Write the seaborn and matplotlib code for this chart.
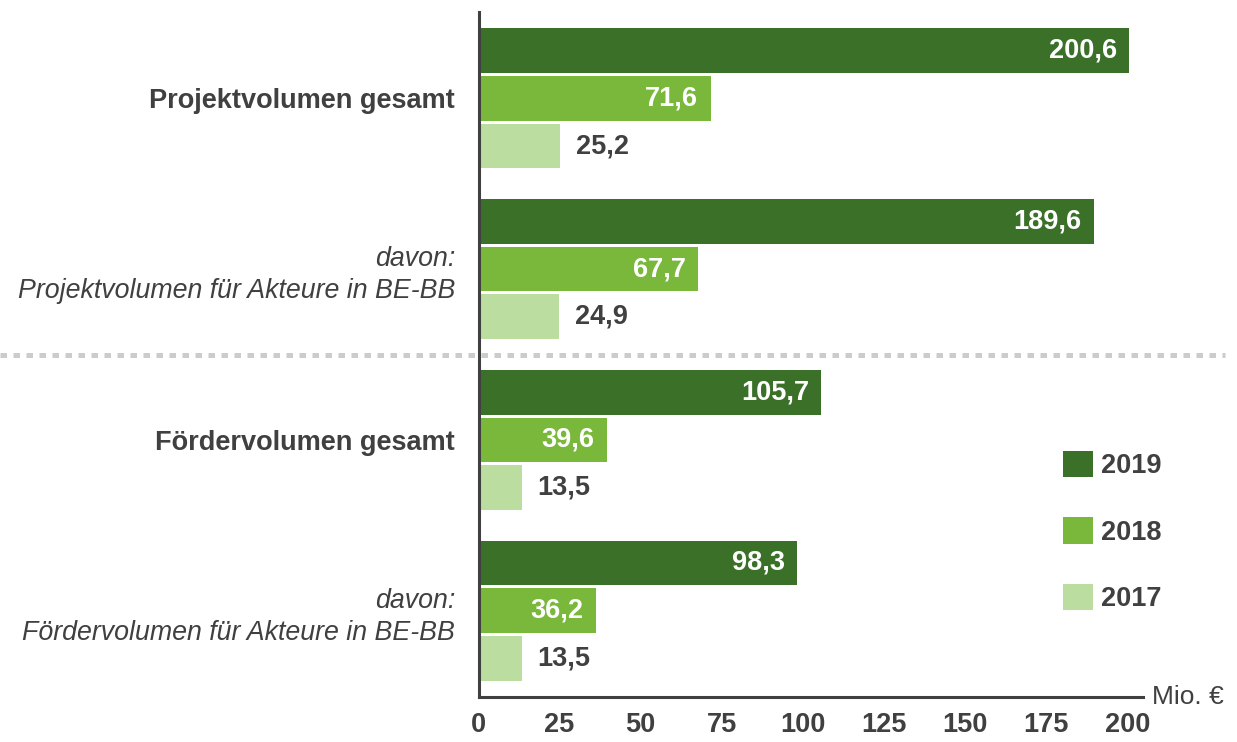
import matplotlib
matplotlib.use("Agg")
import matplotlib.pyplot as plt
from matplotlib.lines import Line2D
from matplotlib.patches import Patch
from matplotlib.transforms import blended_transform_factory, ScaledTranslation
import seaborn as sns
import pandas as pd

# --- data -------------------------------------------------------------
categories = [
    "Projektvolumen gesamt",
    "davon:\nProjektvolumen für Akteure in BE-BB",
    "Fördervolumen gesamt",
    "davon:\nFördervolumen für Akteure in BE-BB",
]
years = ["2019", "2018", "2017"]
values_2019 = [200.6, 189.6, 105.7, 98.3]
values_2018 = [71.6, 67.7, 39.6, 36.2]
values_2017 = [25.2, 24.9, 13.5, 13.5]
x_ticks = [0, 25, 50, 75, 100, 125, 150, 175, 200]
unit_label = "Mio. €"

# --- style ------------------------------------------------------------
TEXT = "#404040"
palette = {"2019": "#3b7029", "2018": "#79b83a", "2017": "#bbdd9f"}
label_colors = {"2019": "white", "2018": "white", "2017": TEXT}
FS = 19
FS_NUM = 19.5

sns.set_style("white")
plt.rcParams["font.family"] = ["Liberation Sans", "DejaVu Sans"]

df = pd.DataFrame({
    "Kategorie": categories * 3,
    "Jahr": ["2019"] * 4 + ["2018"] * 4 + ["2017"] * 4,
    "Wert": values_2019 + values_2018 + values_2017,
})

fig = plt.figure(figsize=(12.37, 7.42), dpi=100)
ax = fig.add_axes([478.5 / 1237, 1 - 697 / 742, (1143 - 478.5) / 1237, (697 - 12) / 742])

sns.barplot(
    data=df, x="Wert", y="Kategorie", hue="Jahr", order=categories,
    hue_order=years, palette=palette, orient="h", width=0.842, gap=0.0625,
    linewidth=0, saturation=1, errorbar=None, ax=ax, legend=False,
)

ax.set_xlim(0, 204.8)
ax.set_ylim(3.503, -0.503)
ax.set_xlabel("")
ax.set_ylabel("")

# spines
for side in ("top", "right"):
    ax.spines[side].set_visible(False)
for side in ("left", "bottom"):
    ax.spines[side].set_color(TEXT)
    ax.spines[side].set_linewidth(2.2)

# x axis
ax.set_xticks(x_ticks)
ax.set_xticklabels([str(t) for t in x_ticks], fontsize=FS_NUM, fontweight="bold", color=TEXT)
ax.tick_params(axis="x", direction="inout", length=12, width=2.2, color=TEXT, pad=5)
ax.text(1.0, 0.0, unit_label, fontsize=FS, color=TEXT, ha="left", va="center",
        transform=ax.transAxes + ScaledTranslation(9 / 100, 0, fig.dpi_scale_trans))

# y axis: category labels, bold for totals, italic for subsets
ax.set_yticks(range(len(categories)))
ax.set_yticklabels(categories, color=TEXT)
for lbl, cat in zip(ax.get_yticklabels(), categories):
    if cat.startswith("davon"):
        lbl.set_fontstyle("italic")
        lbl.set_fontsize(19.3)
    else:
        lbl.set_fontweight("bold")
        lbl.set_fontsize(19.5)
    lbl.set_linespacing(1.28)
ax.tick_params(axis="y", length=0, pad=17)

# value labels
for year, container in zip(years, ax.containers):
    for bar, val in zip(container.patches, container.datavalues):
        yc = bar.get_y() + bar.get_height() / 2
        txt = f"{val:.1f}".replace(".", ",")
        if year == "2017":
            ax.annotate(txt, (val, yc), xytext=(11, 0), textcoords="offset points",
                        ha="left", va="center", fontsize=FS_NUM, fontweight="bold",
                        color=label_colors[year])
        else:
            ax.annotate(txt, (val, yc), xytext=(-9, 0), textcoords="offset points",
                        ha="right", va="center", fontsize=FS_NUM, fontweight="bold",
                        color=label_colors[year])

# dotted separator between project and funding volumes
sep = Line2D([0, 1225 / 1237], [1.5, 1.5],
             transform=blended_transform_factory(fig.transFigure, ax.transData),
             color="#cccccc", linewidth=3.6, linestyle=(0, (1.3, 1.3)),
             dash_capstyle="butt", clip_on=False, zorder=0.5)
ax.add_line(sep)

# legend
handles = [Patch(facecolor=palette[y], edgecolor="none") for y in years]
leg = ax.legend(handles, years, loc="upper left",
                bbox_to_anchor=(1063 / 1237, 1 - 451 / 742),
                bbox_transform=fig.transFigure, frameon=False,
                prop={"size": FS_NUM, "weight": "bold"},
                handlelength=1.12, handleheight=1.12, handletextpad=0.3,
                labelspacing=1.4, borderpad=0, borderaxespad=0)
for t in leg.get_texts():
    t.set_color(TEXT)

fig.savefig("out.png", dpi=100)
